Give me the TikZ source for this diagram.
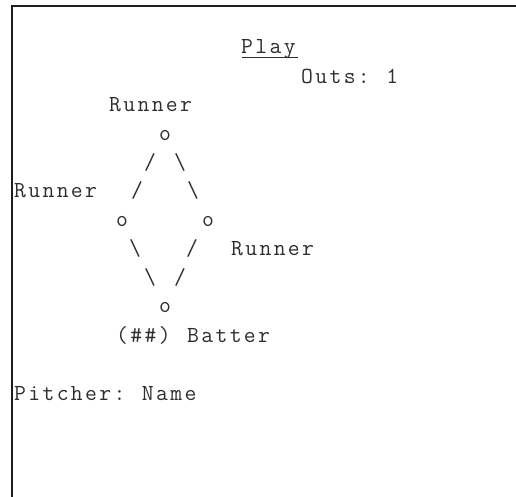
\documentclass[tikz,border=0pt]{standalone}
\usepackage{fontspec}
\definecolor{inkgray}{HTML}{2E2E2E}
\definecolor{framegray}{HTML}{1E1E1E}
\newlength\cellw
\setlength\cellw{14.2pt}
\makeatletter
\newcommand\cellstr[1]{\@tfor\cc:=#1\do{\makebox[\cellw][c]{\cc}}}
\makeatother
\begin{document}
\begin{tikzpicture}[x=1pt,y=-1pt,
  txt/.style={inner sep=0pt, outer sep=0pt, anchor=base west, text=inkgray,
    font=\ttfamily\fontsize{23}{28.8}\selectfont},
  glyph/.style={txt, anchor=base},
  frameline/.style={draw=framegray, line width=2pt}]
\useasboundingbox (0,0) rectangle (516,497);
% frame (top and left edges)
\coordinate (fbl) at (12,497);
\coordinate (ftl) at (12,6);
\coordinate (ftr) at (516,6);
\draw[frameline] (fbl) -- (ftl) -- (ftr);
% title
\node[txt] (play) at (240,53.6) {\cellstr{Play}};
\coordinate (ulw) at (242,57.5);
\coordinate (ule) at (298,57.5);
\draw[draw=inkgray, line width=1pt] (ulw) -- (ule);
\node[txt] (outs) at (300,83.2) {\cellstr{Outs:~1}};
% runners
\node[txt] (r2) at (108,112) {\cellstr{Runner}};
\node[txt] (r3) at (13,197.6) {\cellstr{Runner}};
\node[txt] (r1) at (230,255.2) {\cellstr{Runner}};
% bases
\node[glyph] (b2) at (165,140.8) {o};
\node[glyph] (b3) at (122,226.4) {o};
\node[glyph] (b1) at (208,226.4) {o};
\node[glyph] (bh) at (165,312.8) {o};
% base paths
\node[glyph] (s1) at (150,169.6) {/};
\node[glyph] (s2) at (180,169.6) {\textbackslash};
\node[glyph] (s3) at (137,197.6) {/};
\node[glyph] (s4) at (193,197.6) {\textbackslash};
\node[glyph] (s5) at (135,255.2) {\textbackslash};
\node[glyph] (s6) at (192,255.2) {/};
\node[glyph] (s7) at (150,284) {\textbackslash};
\node[glyph] (s8) at (180,284) {/};
% batter and pitcher
\node[txt] (bat) at (115,342) {\cellstr{(\#\#)~Batter}};
\node[txt] (pit) at (13,400) {\cellstr{Pitcher:~Name}};
\end{tikzpicture}
\end{document}
